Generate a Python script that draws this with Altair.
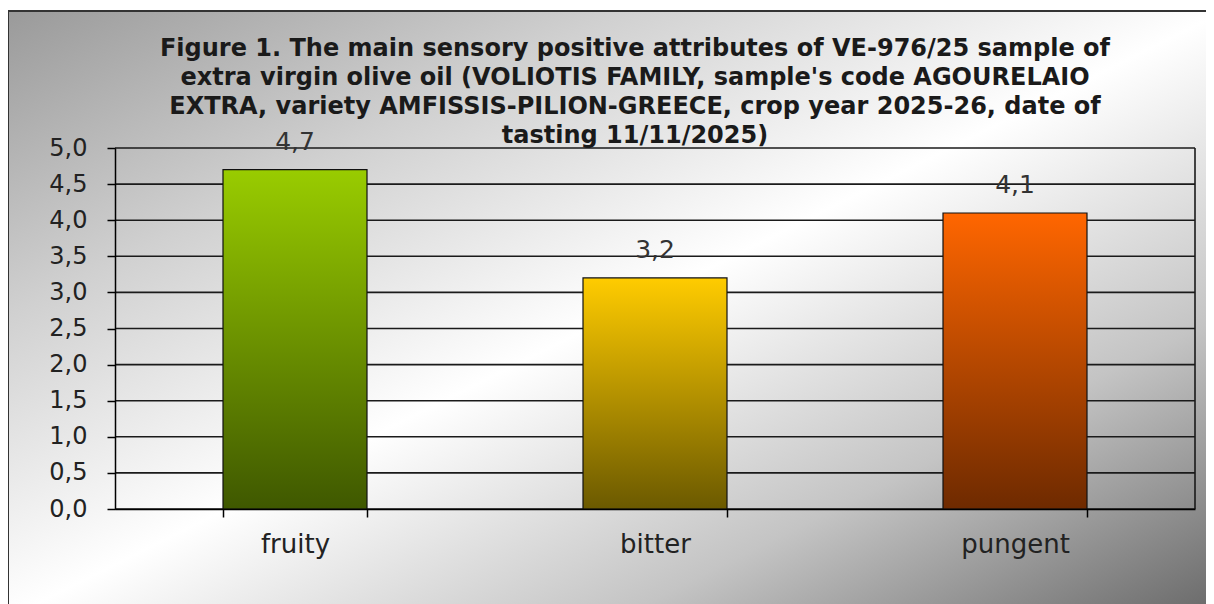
import altair as alt
import pandas as pd

# ---- data ----
categories = ["fruity", "bitter", "pungent"]
values = [4.7, 3.2, 4.1]
value_labels = ["4,7", "3,2", "4,1"]
y_ticks = [0, 0.5, 1, 1.5, 2, 2.5, 3, 3.5, 4, 4.5, 5]
bar_top_colors = ["#99cc00", "#ffcc00", "#ff6600"]
bar_bottom_colors = ["#3f5800", "#6b5900", "#6e2a00"]
title_lines = [
    "Figure 1. The main sensory positive attributes  of VE-976/25 sample of",
    "extra virgin olive oil (VOLIOTIS FAMILY, sample's code  AGOURELAIO",
    "EXTRA, variety AMFISSIS-PILION-GREECE, crop year 2025-26, date of",
    "tasting 11/11/2025)",
]

W, H = 1080, 361
FONT = "DejaVu Sans"

df = pd.DataFrame({"attribute": categories, "score": values, "label": value_labels})
grid_df = pd.DataFrame({"score": y_ticks})
one_df = pd.DataFrame({"k": [1]})

x_scale = alt.Scale(domain=categories, paddingInner=0.6, paddingOuter=0.3)
y_scale = alt.Scale(domain=[0, 5], nice=False)

x_axis = alt.Axis(
    title=None, labelAngle=0, tickBand="extent", tickSize=8, tickColor="black",
    tickWidth=1.5, domainColor="black", domainWidth=1.5, labelFont=FONT,
    labelFontSize=26, labelColor="#222222", labelPadding=14, zindex=1, grid=False,
)
y_axis = alt.Axis(
    title=None, values=y_ticks, tickSize=8, tickColor="black", tickWidth=1.5,
    domainColor="black", domainWidth=1.5, labelFont=FONT, labelFontSize=24,
    labelColor="#222222", labelPadding=20, grid=False, zindex=1,
    labelExpr="replace(format(datum.value, '.1f'), '.', ',')",
)

X = alt.X("attribute:N", scale=x_scale, axis=x_axis)
Y = alt.Y("score:Q", scale=y_scale, axis=y_axis)

bg_gradient = {
    "gradient": "linear", "x1": 0, "y1": 0, "x2": 1, "y2": 1,
    "stops": [
        {"offset": 0.0, "color": "#9a9a9a"},
        {"offset": 0.25, "color": "#d0d0d0"},
        {"offset": 0.5, "color": "#ffffff"},
        {"offset": 0.75, "color": "#c4c4c4"},
        {"offset": 1.0, "color": "#666666"},
    ],
}

background = alt.Chart(one_df).mark_rect(
    fill=bg_gradient, stroke="#333333", strokeWidth=2
).encode(
    x=alt.value(-107), x2=alt.value(1110), y=alt.value(-137), y2=alt.value(470)
)

grid = alt.Chart(grid_df).mark_rule(color="#1a1a1a", strokeWidth=1.6).encode(y=Y)

right_border = alt.Chart(one_df).mark_rule(color="#1a1a1a", strokeWidth=1.6).encode(
    x=alt.value(W)
)

bars = []
for cat, top, bottom in zip(categories, bar_top_colors, bar_bottom_colors):
    grad = {
        "gradient": "linear", "x1": 0, "y1": 0, "x2": 0, "y2": 1,
        "stops": [{"offset": 0, "color": top}, {"offset": 1, "color": bottom}],
    }
    bars.append(
        alt.Chart(df).transform_filter(alt.datum.attribute == cat)
        .mark_bar(fill=grad, stroke="#111111", strokeWidth=1.2)
        .encode(x=X, y=Y)
    )

text = alt.Chart(df).mark_text(
    baseline="alphabetic", dy=-20, font=FONT, fontSize=25, color="#333333"
).encode(x=X, y=Y, text="label:N")

chart = alt.layer(background, grid, right_border, *bars, text).properties(
    width=W,
    height=H,
    autosize=alt.AutoSizeParams(type="none"),
    padding={"left": 107, "top": 140, "right": 11, "bottom": 96},
    title=alt.TitleParams(
        text=title_lines, font=FONT, fontSize=24, fontWeight="bold",
        color="#1a1a1a", lineHeight=29, anchor="middle", frame="group",
        dx=-20, offset=-138,
    ),
).configure_view(stroke=None)

chart.save("out.html", embed_options={"renderer": "svg", "actions": False})
